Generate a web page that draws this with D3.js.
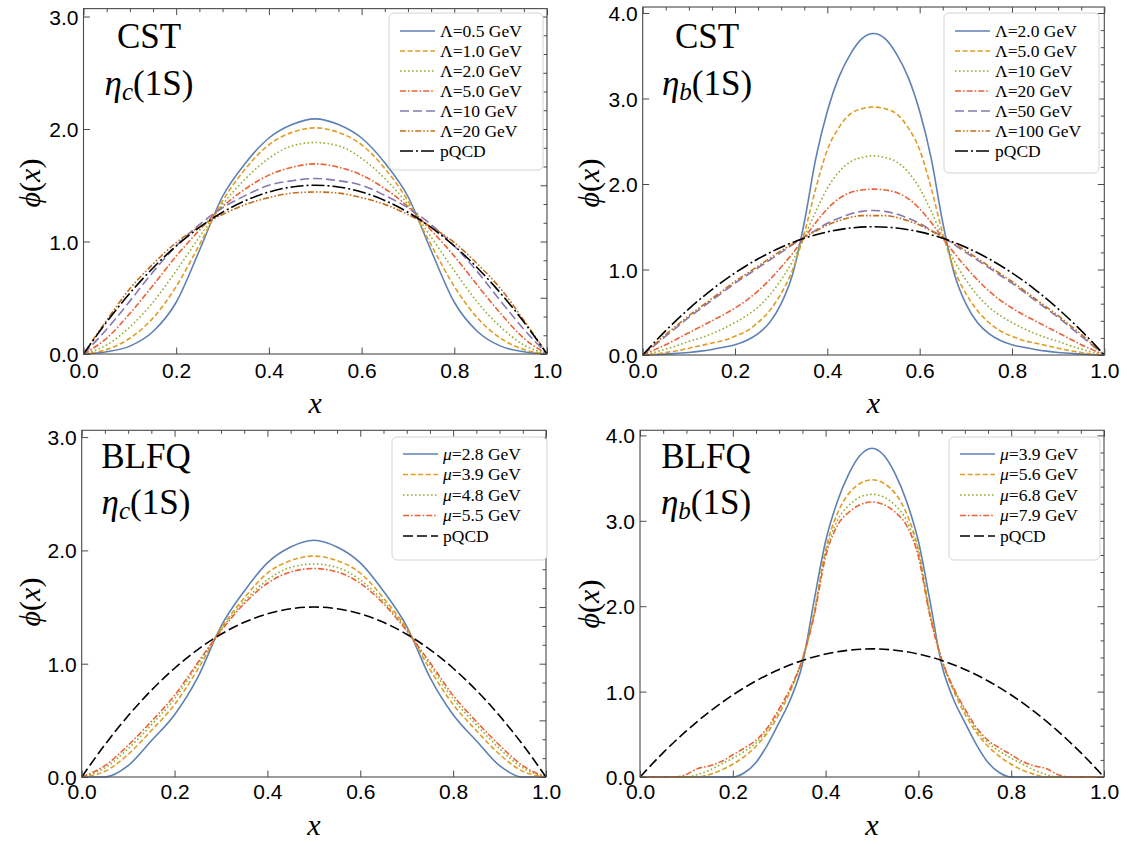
<!DOCTYPE html>
<html><head><meta charset="utf-8">
<script src="https://cdn.jsdelivr.net/npm/d3@7"></script>
<style>body{margin:0;background:#fff} svg{display:block}</style>
</head><body>
<svg id="chart" width="1128" height="845"></svg>
<script>
// ---------- x grids ----------
const xs21 = [0,0.05,0.1,0.15,0.2,0.25,0.3,0.35,0.4,0.45,0.5,0.55,0.6,0.65,0.7,0.75,0.8,0.85,0.9,0.95,1];
const xs41 = [0,0.025,0.05,0.075,0.1,0.125,0.15,0.175,0.2,0.225,0.25,0.275,0.3,0.325,0.35,0.375,0.4,0.425,0.45,0.475,0.5,
              0.525,0.55,0.575,0.6,0.625,0.65,0.675,0.7,0.725,0.75,0.775,0.8,0.825,0.85,0.875,0.9,0.925,0.95,0.975,1];

// ---------- pQCD ----------
const pQCD = [0,0.285,0.54,0.765,0.96,1.125,1.26,1.365,1.44,1.485,1.5,1.485,1.44,1.365,1.26,1.125,0.96,0.765,0.54,0.285,0];

// ---------- CST eta_c (xs21) ----------
const cstC_L05 = [0,0.02,0.07,0.20,0.46,0.92,1.40,1.70,1.92,2.04,2.09,2.04,1.92,1.70,1.40,0.92,0.46,0.20,0.07,0.02,0];
const cstC_L10 = [0,0.04,0.14,0.32,0.60,0.97,1.36,1.65,1.86,1.97,2.01,1.97,1.86,1.65,1.36,0.97,0.60,0.32,0.14,0.04,0];
const cstC_L20 = [0,0.08,0.24,0.46,0.74,1.04,1.33,1.56,1.74,1.85,1.88,1.85,1.74,1.56,1.33,1.04,0.74,0.46,0.24,0.08,0];
const cstC_L50 = [0,0.14,0.36,0.61,0.87,1.10,1.31,1.47,1.59,1.66,1.69,1.66,1.59,1.47,1.31,1.10,0.87,0.61,0.36,0.14,0];
const cstC_L100 = [0,0.22,0.47,0.73,0.96,1.15,1.30,1.41,1.50,1.54,1.56,1.54,1.50,1.41,1.30,1.15,0.96,0.73,0.47,0.22,0];
const cstC_L200 = [0,0.30,0.58,0.80,0.99,1.13,1.24,1.33,1.39,1.43,1.44,1.43,1.39,1.33,1.24,1.13,0.99,0.80,0.58,0.30,0];
const cstC_labels = ["Λ=0.5 GeV","Λ=1.0 GeV","Λ=2.0 GeV","Λ=5.0 GeV","Λ=10 GeV","Λ=20 GeV","pQCD"];

// ---------- CST eta_b (xs41) ----------
const cstB_L2 = [0,.003,.01,.02,.03,.045,.065,.09,.12,.17,.25,.38,.60,.95,1.55,2.30,2.85,3.25,3.52,3.70,3.76,
                 3.70,3.52,3.25,2.85,2.30,1.55,.95,.60,.38,.25,.17,.12,.09,.065,.045,.03,.02,.01,.003,0];
const cstB_L5 = [0,.01,.03,.05,.08,.11,.14,.17,.22,.28,.38,.52,.72,1.00,1.42,1.95,2.40,2.66,2.82,2.88,2.90,
                 2.88,2.82,2.66,2.40,1.95,1.42,1.00,.72,.52,.38,.28,.22,.17,.14,.11,.08,.05,.03,.01,0];
const cstB_L10 = [0,.03,.07,.11,.16,.20,.25,.31,.38,.46,.56,.70,.88,1.10,1.38,1.68,1.95,2.14,2.26,2.31,2.33,
                  2.31,2.26,2.14,1.95,1.68,1.38,1.10,.88,.70,.56,.46,.38,.31,.25,.20,.16,.11,.07,.03,0];
const cstB_L20 = [0,.06,.12,.19,.26,.33,.40,.47,.55,.64,.75,.88,1.03,1.19,1.37,1.55,1.71,1.83,1.90,1.93,1.94,
                  1.93,1.90,1.83,1.71,1.55,1.37,1.19,1.03,.88,.75,.64,.55,.47,.40,.33,.26,.19,.12,.06,0];
const cstB_L50 = [0,.11,.22,.33,.44,.54,.64,.74,.84,.93,1.02,1.11,1.20,1.29,1.38,1.46,1.54,1.60,1.65,1.68,1.69,
                  1.68,1.65,1.60,1.54,1.46,1.38,1.29,1.20,1.11,1.02,.93,.84,.74,.64,.54,.44,.33,.22,.11,0];
const cstB_L100 = [0,.12,.24,.35,.46,.56,.66,.76,.86,.95,1.04,1.13,1.22,1.30,1.38,1.45,1.52,1.57,1.61,1.63,1.63,
                   1.63,1.61,1.57,1.52,1.45,1.38,1.30,1.22,1.13,1.04,.95,.86,.76,.66,.56,.46,.35,.24,.12,0];
const cstB_labels = ["Λ=2.0 GeV","Λ=5.0 GeV","Λ=10 GeV","Λ=20 GeV","Λ=50 GeV","Λ=100 GeV","pQCD"];

// ---------- BLFQ eta_c (xs21) ----------
const blfqC_m28 = [0,0,0.10,0.32,0.55,0.88,1.33,1.64,1.89,2.03,2.09,2.03,1.89,1.64,1.33,0.88,0.55,0.32,0.10,0,0];
const blfqC_m39 = [0,0.05,0.20,0.41,0.64,0.95,1.31,1.58,1.80,1.91,1.95,1.91,1.80,1.58,1.31,0.95,0.64,0.41,0.20,0.05,0];
const blfqC_m48 = [0,0.08,0.25,0.46,0.69,0.99,1.30,1.55,1.74,1.85,1.88,1.85,1.74,1.55,1.30,0.99,0.69,0.46,0.25,0.08,0];
const blfqC_m55 = [0,0.10,0.28,0.49,0.72,1.01,1.29,1.53,1.71,1.81,1.84,1.81,1.71,1.53,1.29,1.01,0.72,0.49,0.28,0.10,0];
const blfqC_labels = ["μ=2.8 GeV","μ=3.9 GeV","μ=4.8 GeV","μ=5.5 GeV","pQCD"];

// ---------- BLFQ eta_b (xs41) ----------
const blfqB_m39 = [0,0,0,0,0,0,0,0,0,.05,.17,.38,.64,.92,1.32,2.06,2.76,3.22,3.55,3.77,3.85,
                   3.77,3.55,3.22,2.76,2.06,1.32,.92,.64,.38,.17,.05,0,0,0,0,0,0,0,0,0];
const blfqB_m56 = [0,0,0,0,0,0,.03,.08,.15,.24,.36,.52,.74,1.02,1.38,1.92,2.66,3.08,3.32,3.44,3.48,
                   3.44,3.32,3.08,2.66,1.92,1.38,1.02,.74,.52,.36,.24,.15,.08,.03,0,0,0,0,0,0];
const blfqB_m68 = [0,0,0,0,0,.03,.08,.15,.22,.30,.40,.55,.78,1.04,1.38,1.90,2.62,3.00,3.18,3.28,3.31,
                   3.28,3.18,3.00,2.62,1.90,1.38,1.04,.78,.55,.40,.30,.22,.15,.08,.03,0,0,0,0,0];
const blfqB_m79 = [0,0,0,0,.03,.10,.13,.18,.26,.34,.43,.58,.80,1.05,1.38,1.88,2.58,2.94,3.10,3.19,3.22,
                   3.19,3.10,2.94,2.58,1.88,1.38,1.05,.80,.58,.43,.34,.26,.18,.13,.10,.03,0,0,0,0];
const blfqB_labels = ["μ=3.9 GeV","μ=5.6 GeV","μ=6.8 GeV","μ=7.9 GeV","pQCD"];

const yTicksC = [0,1,2,3];
const yTicksB = [0,1,2,3,4];
const xTicks = [0,0.2,0.4,0.6,0.8,1.0];

// ---------- styles ----------
const COL = {blue:"#5E81B5", orange:"#E19C24", green:"#8FB032", red:"#EB6235", purple:"#8778B3", brown:"#C56E1A", black:"#000"};
const DASH = {solid:null, dashed:"5,2.6", dotted:"1.6,2.4", dotdash:"6,2,1.6,2", longdash:"9,4", dotdotdash:"6,2,1.6,2,1.6,2", pqcdCST:"13,3,2,3", pqcdLong:"10,4"};

function mk(xs, ys, color, dash){ return {xs, ys, color, dash}; }

const panels = [
  { x0:83.5, x1:547, yB:354, ymax:3.07, yPerUnit:112.5, title:"CST", sub:"c", yTicks:yTicksC, rMajor:0.5, rMinor:0.5/3,
    series:[mk(xs21,cstC_L05,COL.blue,DASH.solid), mk(xs21,cstC_L10,COL.orange,DASH.dashed), mk(xs21,cstC_L20,COL.green,DASH.dotted),
            mk(xs21,cstC_L50,COL.red,DASH.dotdash), mk(xs21,cstC_L100,COL.purple,DASH.longdash), mk(xs21,cstC_L200,COL.brown,DASH.dotdotdash),
            mk(xs21,pQCD,COL.black,DASH.pqcdCST)],
    labels:cstC_labels, leg:{x:389,y:13,w:154,h:157,row0:31,step:20}, titleX:149, titleY:48, subY:95, phiX:31, phiY:183, xLabY:404, tickLabY:370 },
  { x0:642.7, x1:1104.3, yB:355, ymax:4.07, yPerUnit:85.5, title:"CST", sub:"b", yTicks:yTicksB, rMajor:1, rMinor:0.2,
    series:[mk(xs41,cstB_L2,COL.blue,DASH.solid), mk(xs41,cstB_L5,COL.orange,DASH.dashed), mk(xs41,cstB_L10,COL.green,DASH.dotted),
            mk(xs41,cstB_L20,COL.red,DASH.dotdash), mk(xs41,cstB_L50,COL.purple,DASH.longdash), mk(xs41,cstB_L100,COL.brown,DASH.dotdotdash),
            mk(xs21,pQCD,COL.black,DASH.pqcdCST)],
    labels:cstB_labels, leg:{x:944,y:13,w:155,h:160,row0:31,step:20}, titleX:707, titleY:48, subY:95, phiX:590, phiY:183, xLabY:404, tickLabY:370 },
  { x0:81.7, x1:546, yB:777, ymax:3.06, yPerUnit:113.3, title:"BLFQ", sub:"c", yTicks:yTicksC, rMajor:0.5, rMinor:0.5/3,
    series:[mk(xs21,blfqC_m28,COL.blue,DASH.solid), mk(xs21,blfqC_m39,COL.orange,DASH.dashed), mk(xs21,blfqC_m48,COL.green,DASH.dotted),
            mk(xs21,blfqC_m55,COL.red,DASH.dotdash), mk(xs21,pQCD,COL.black,DASH.pqcdLong)],
    labels:blfqC_labels, leg:{x:392,y:437,w:155,h:123,row0:454,step:20.5}, titleX:146, titleY:468, subY:514, phiX:31, phiY:602, xLabY:826, tickLabY:791 },
  { x0:640, x1:1104, yB:777, ymax:4.06, yPerUnit:85.4, title:"BLFQ", sub:"b", yTicks:yTicksB, rMajor:1, rMinor:0.2,
    series:[mk(xs41,blfqB_m39,COL.blue,DASH.solid), mk(xs41,blfqB_m56,COL.orange,DASH.dashed), mk(xs41,blfqB_m68,COL.green,DASH.dotted),
            mk(xs41,blfqB_m79,COL.red,DASH.dotdash), mk(xs21,pQCD,COL.black,DASH.pqcdLong)],
    labels:blfqB_labels, leg:{x:949,y:437,w:151,h:123,row0:454,step:20.5}, titleX:706, titleY:468, subY:514, phiX:590, phiY:604, xLabY:826, tickLabY:791 }
];

const svg = d3.select("#chart");
const SERIF = "'Liberation Serif','Times New Roman',serif";
const SANS = "'Liberation Sans',Arial,sans-serif";
const FRAME = "#4a4a4a";

panels.forEach(p => {
  const x = d3.scaleLinear().domain([0,1]).range([p.x0, p.x1]);
  const y = d3.scaleLinear().domain([0,p.ymax]).range([p.yB, p.yB - p.ymax*p.yPerUnit]);
  const yTop = y(p.ymax);
  const g = svg.append("g");

  // curves
  const line = d3.line().curve(d3.curveMonotoneX);
  p.series.forEach(s => {
    const pts = s.xs.map((xv,i) => [x(xv), y(s.ys[i])]);
    g.append("path").attr("d", line(pts)).attr("fill","none")
      .attr("stroke", s.color).attr("stroke-width", 1.6)
      .attr("stroke-dasharray", s.dash);
  });

  // minor ticks on top (0.05) and right
  const topMinor = d3.range(0, 1.0001, 0.05).filter(v => Math.abs(v*5 - Math.round(v*5)) > 1e-6);
  g.append("g").attr("transform",`translate(0,${yTop})`)
    .call(d3.axisTop(x).tickValues(topMinor).tickSize(-3.5).tickFormat(""))
    .call(a => a.select(".domain").remove());
  g.append("g").attr("transform",`translate(0,${yTop})`)
    .call(d3.axisTop(x).tickValues(xTicks).tickSize(-6.5).tickFormat(""))
    .call(a => a.select(".domain").remove());
  const nR = Math.floor(p.ymax / p.rMinor + 1e-6);
  const rAll = d3.range(0, nR+1).map(i => i*p.rMinor);
  const rMaj = rAll.filter(v => Math.abs(v/p.rMajor - Math.round(v/p.rMajor)) < 1e-6);
  const rMin = rAll.filter(v => Math.abs(v/p.rMajor - Math.round(v/p.rMajor)) >= 1e-6);
  g.append("g").attr("transform",`translate(${p.x1},0)`)
    .call(d3.axisRight(y).tickValues(rMin).tickSize(-3.5).tickFormat(""))
    .call(a => a.select(".domain").remove());
  g.append("g").attr("transform",`translate(${p.x1},0)`)
    .call(d3.axisRight(y).tickValues(rMaj).tickSize(-6.5).tickFormat(""))
    .call(a => a.select(".domain").remove());

  // left axis with labels
  const ax = g.append("g").attr("transform",`translate(${p.x0},0)`)
    .call(d3.axisLeft(y).tickValues(p.yTicks).tickSize(-6.5).tickPadding(5).tickFormat(d3.format(".1f")))
    .call(a => a.select(".domain").remove());
  ax.selectAll("text").attr("font-family", SANS).attr("font-size", 21).attr("fill","#000").attr("dy","0.36em");
  // bottom axis with labels
  const bx = g.append("g").attr("transform",`translate(0,${p.yB})`)
    .call(d3.axisBottom(x).tickValues(xTicks).tickSize(-6.5).tickPadding(0).tickFormat(d3.format(".1f")))
    .call(a => a.select(".domain").remove());
  bx.selectAll("text").attr("font-family", SANS).attr("font-size", 21).attr("fill","#000")
    .attr("y", p.tickLabY - p.yB).attr("dy", "0.36em");
  g.selectAll(".tick line").attr("stroke", FRAME);

  // frame
  g.append("rect").attr("x", p.x0).attr("y", yTop).attr("width", p.x1-p.x0).attr("height", p.yB-yTop)
    .attr("fill","none").attr("stroke", FRAME).attr("stroke-width", 1.1);

  // axis labels
  g.append("text").attr("x", (p.x0+p.x1)/2).attr("y", p.xLabY).attr("text-anchor","middle").attr("dy","0.3em")
    .attr("font-family", SERIF).attr("font-style","italic").attr("font-size", 30).text("x");
  const phi = g.append("text").attr("transform",`translate(${p.phiX},${p.phiY}) rotate(-90)`)
    .attr("text-anchor","middle").attr("dy","0.3em").attr("font-family", SERIF).attr("font-size", 30);
  phi.append("tspan").attr("font-style","italic").text("ϕ");
  phi.append("tspan").text("(");
  phi.append("tspan").attr("font-style","italic").text("x");
  phi.append("tspan").text(")");

  // titles
  g.append("text").attr("x", p.titleX).attr("y", p.titleY).attr("text-anchor","middle")
    .attr("font-family", SERIF).attr("font-size", 35).text(p.title);
  const t2 = g.append("text").attr("x", p.titleX).attr("y", p.subY).attr("text-anchor","middle")
    .attr("font-family", SERIF).attr("font-size", 35);
  t2.append("tspan").attr("font-style","italic").text("η");
  t2.append("tspan").attr("font-style","italic").attr("font-size", 25).attr("dy", 5).text(p.sub);
  t2.append("tspan").attr("dy", -5).text("(1S)");

  // legend
  const L = p.leg;
  g.append("rect").attr("x", L.x).attr("y", L.y).attr("width", L.w).attr("height", L.h).attr("rx", 5)
    .attr("fill","#fff").attr("stroke","#d4d4d4").attr("stroke-width", 1);
  p.series.forEach((s, i) => {
    const yy = L.row0 + i*L.step;
    g.append("line").attr("x1", L.x+11).attr("x2", L.x+46).attr("y1", yy).attr("y2", yy)
      .attr("stroke", s.color).attr("stroke-width", 1.6).attr("stroke-dasharray", s.dash);
    const t = g.append("text").attr("x", L.x+51).attr("y", yy).attr("dy","0.33em")
      .attr("font-family", SERIF).attr("font-size", 17.5);
    const lab = p.labels[i];
    if (lab.startsWith("μ")) {
      t.append("tspan").attr("font-style","italic").text("μ");
      t.append("tspan").text(lab.slice(1));
    } else t.text(lab);
  });
});
</script>
</body></html>
